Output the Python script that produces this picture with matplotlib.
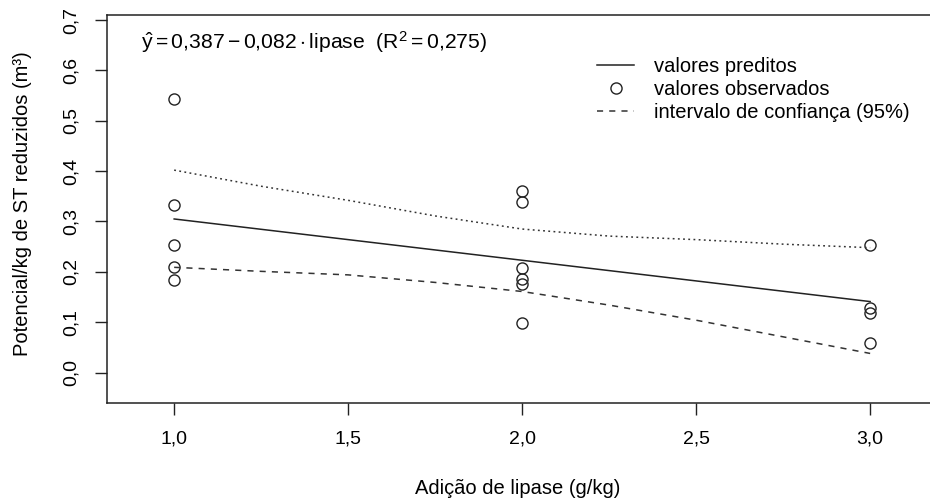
import matplotlib
matplotlib.use('Agg')
from matplotlib import pyplot as plt
from matplotlib.ticker import FuncFormatter

plt.rcParams['font.family'] = ['Liberation Sans', 'DejaVu Sans']
plt.rcParams['mathtext.fontset'] = 'custom'
plt.rcParams['mathtext.rm'] = 'Liberation Sans'
plt.rcParams['mathtext.it'] = 'Liberation Sans'

lipase = [1, 1, 1, 1, 1,
          2, 2, 2, 2, 2, 2,
          3, 3, 3, 3]
potencial = [0.543, 0.333, 0.253, 0.209, 0.183,
             0.360, 0.339, 0.207, 0.185, 0.176, 0.098,
             0.254, 0.129, 0.119, 0.058]

# predicted line
x_pred = [1.0, 3.0]
y_pred = [0.305, 0.141]

# confidence band (95%)
x_ic = [1.0, 1.25, 1.5, 1.75, 2.0, 2.25, 2.5, 2.75, 3.0]
ic_sup = [0.402, 0.370, 0.342, 0.311, 0.285, 0.271, 0.264, 0.255, 0.248]
ic_inf = [0.209, 0.201, 0.194, 0.179, 0.161, 0.134, 0.104, 0.071, 0.038]

x_ticks = [1.0, 1.5, 2.0, 2.5, 3.0]
y_ticks = [0.0, 0.1, 0.2, 0.3, 0.4, 0.5, 0.6, 0.7]

fig = plt.figure(figsize=(9.3, 5.04), dpi=100)
ax = fig.add_axes([107/930, 1 - 403/504, 1 - 107/930, 388/504])

l1, = ax.plot(x_pred, y_pred, color='#222222', lw=1.1, label='valores preditos')
l2, = ax.plot(lipase, potencial, 'o', mfc='none', mec='#222222', mew=1.0, ms=8,
              label='valores observados')
ax.plot(x_ic, ic_sup, color='#333333', lw=1.1, ls=(0, (1.2, 2.2)))
l3, = ax.plot(x_ic, ic_inf, color='#333333', lw=1.1, ls=(0, (4, 4)),
              label='intervalo de confiança (95%)')

ax.set_xlim(0.807, 3.172)
ax.set_ylim(-0.0604, 0.71)
ax.set_xticks(x_ticks)
ax.set_yticks(y_ticks)
fmt = FuncFormatter(lambda v, p: ('%.1f' % v).replace('.', ','))
ax.xaxis.set_major_formatter(fmt)
ax.yaxis.set_major_formatter(fmt)
ax.tick_params(axis='both', length=8.5, width=1, labelsize=14, pad=11, color='#222222')
for lab in ax.get_yticklabels():
    lab.set_rotation(90)
    lab.set_va('center')
ax.spines['right'].set_visible(False)
for s in ['left', 'top', 'bottom']:
    ax.spines[s].set_linewidth(1.1)
    ax.spines[s].set_color('#222222')

fig.text(518/930, 1 - 489/504, 'Adição de lipase (g/kg)', ha='center', va='center', fontsize=14.5)
fig.text(23/930, 1 - 204/504, 'Potencial/kg de ST reduzidos (m³)', ha='center', va='center',
         rotation=90, fontsize=14.5)

fig.text(141/930, 1 - 42/504,
         r'$\hat{y} = 0{,}387 - 0{,}082 \cdot \mathrm{lipase}\ \ (\mathrm{R}^2 = 0{,}275)$',
         ha='left', va='center', fontsize=15.2)

ax.legend(handles=[l1, l2, l3], loc='upper left', frameon=False, fontsize=14.5,
          bbox_to_anchor=(597/930, 1 - 57/504), bbox_transform=fig.transFigure,
          borderaxespad=0, borderpad=0, handlelength=1.85, handletextpad=1.0,
          labelspacing=0.2)

fig.savefig('out.png', dpi=100)
